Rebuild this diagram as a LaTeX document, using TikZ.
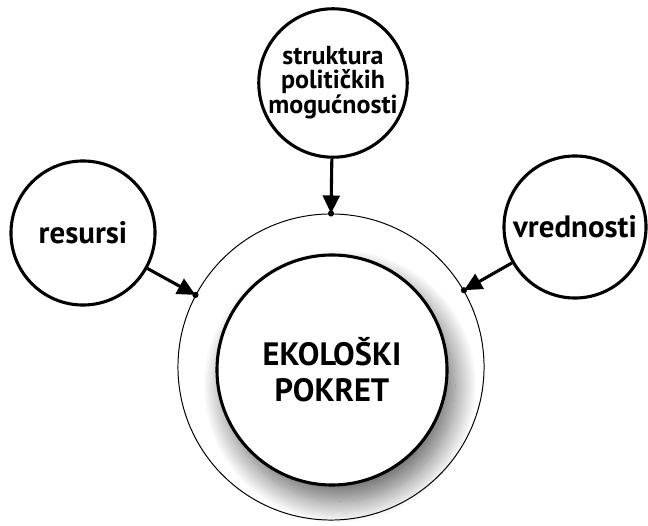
\documentclass[tikz,border=0pt]{standalone}
\usepackage{fontspec}
\setmainfont{PT Sans}
\usetikzlibrary{arrows.meta,shadows.blur}

\begin{document}
\begin{tikzpicture}[x=0.025cm,y=0.025cm,
  factor/.style={circle, draw, fill=white, line width=2.2pt, minimum size=3.6cm, inner sep=0pt,
    align=center, font=\bfseries\fontsize{22}{24}\selectfont},
  pointer/.style={line width=2.2pt, -{Triangle[length=4.5mm,width=4.2mm]}}]
\useasboundingbox (0,0) rectangle (648,525);
%\draw[draw=black] (0,0) rectangle (648,525);
\node[circle, draw, line width=0.7pt, minimum size=7.65cm] (ring) at (331,158) {};
\node[circle, draw, fill=white, line width=2.2pt, minimum size=5.75cm, inner sep=0pt, align=center,
  blur shadow={shadow xshift=0.2cm, shadow yshift=-0.4cm, shadow blur radius=0.55cm,
    shadow blur steps=30, shadow opacity=60},
  font=\bfseries\fontsize{23}{25.5}\selectfont] (pokret) at (332,155) {EKOLOŠKI\\POKRET};
\node[factor, minimum size=3.55cm, font=\bfseries\fontsize{18.5}{17}\selectfont] (spm) at (333,442) {struktura\\političkih\\mogućnosti};
\node[factor] (res) at (83,292) {resursi};
\node[factor, minimum size=3.55cm] (vred) at (575,298) {vrednosti};
\coordinate (pTop) at (ring.north);
\coordinate (pLeft) at (ring.152);
\coordinate (pRight) at (ring.30);
\draw[pointer] (spm) -- (pTop);
\draw[pointer] (res) -- (pLeft);
\draw[pointer] (vred) -- (pRight);
\foreach \p in {pTop,pLeft,pRight}
  \fill (\p) circle (2.2pt);
\end{tikzpicture}
\end{document}
